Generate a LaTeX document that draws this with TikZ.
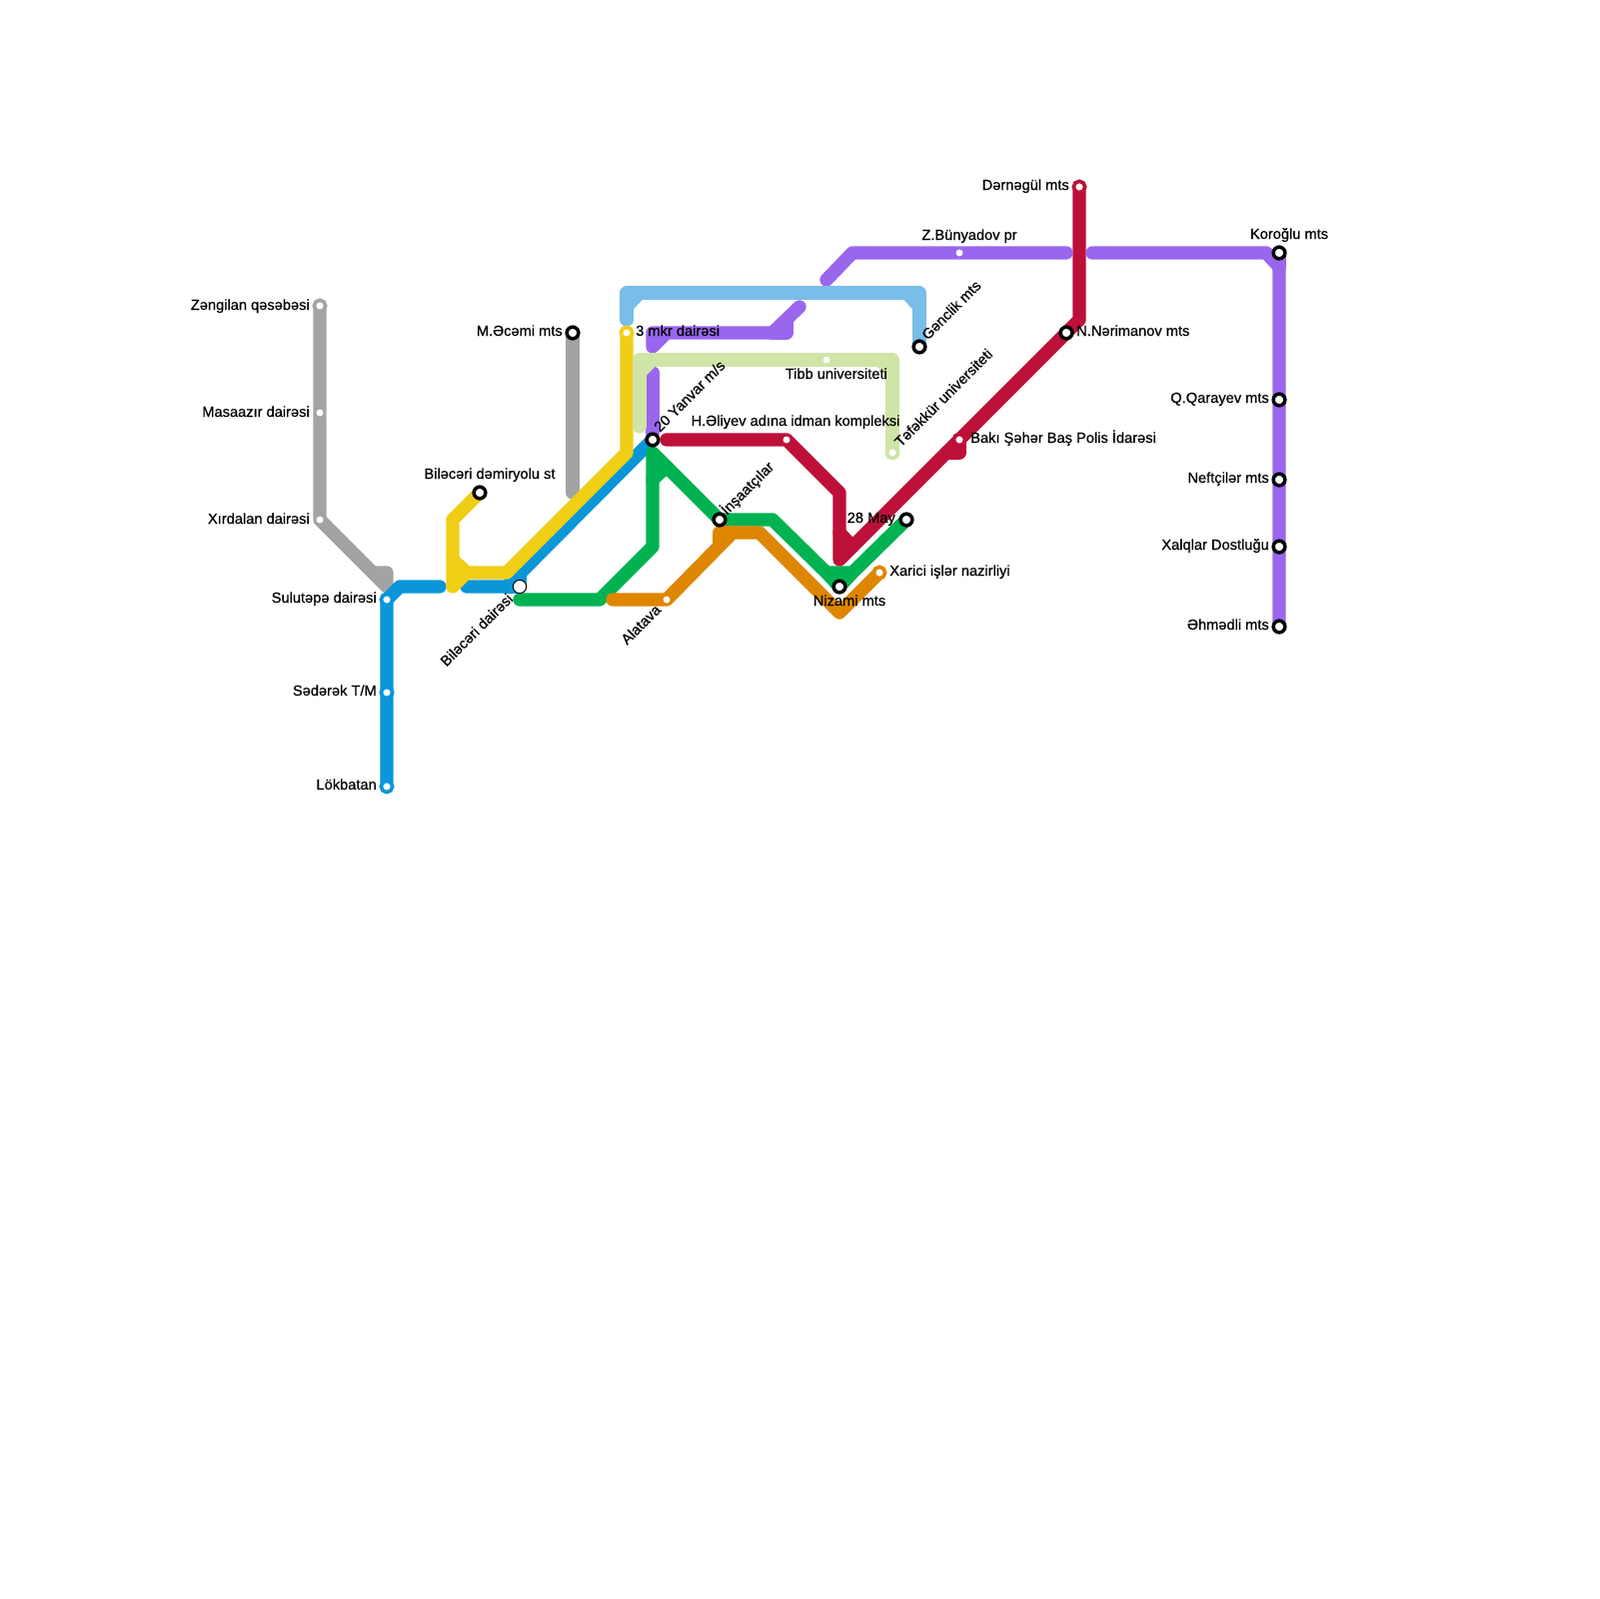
\documentclass[tikz,border=0pt]{standalone}
\usepackage{fontspec}
\setmainfont{Liberation Sans}[RawFeature={embolden=0.5}]
\definecolor{linegray}{HTML}{A3A3A3}
\definecolor{lineblue}{HTML}{0A96D9}
\definecolor{lineyellow}{HTML}{F0CE15}
\definecolor{linegreen}{HTML}{00B251}
\definecolor{lineorange}{HTML}{DF8600}
\definecolor{linered}{HTML}{BD1038}
\definecolor{linepurple}{HTML}{9966EE}
\definecolor{linesky}{HTML}{79BDE9}
\definecolor{linepale}{HTML}{CFE4A7}
\tikzset{
	metro/.style={line width=4mm, line cap=round, line join=round},
	hub/.style={circle, draw=black, fill=white, line width=1.05mm, minimum size=3.5mm, inner sep=0pt},
	openhub/.style={circle, draw=black, fill=white, line width=0.3mm, minimum size=4mm, inner sep=0pt},
	endstop/.style={circle, draw=#1, fill=white, line width=1.1mm, minimum size=3.4mm, inner sep=0pt},
	dot/.style={circle, fill=white, minimum size=2.1mm, inner sep=0pt},
	lbl/.style={inner sep=0pt, text height=2.7mm, text depth=0.8mm, yshift=-0.25mm, font=\fontsize{12.5}{14}\selectfont, text=black},
}
\begin{document}
\begin{tikzpicture}[x=0.3mm, y=-0.3mm]
		\useasboundingbox (0,0) rectangle (1600,1600);
		
		% Stops
		\coordinate (zengilan) at (320,306);
		\coordinate (masaazir) at (320,413);
		\coordinate (xirdalan) at (320,520);
		\coordinate (sulutepe) at (387,600);
		\coordinate (sederek) at (387,693);
		\coordinate (lokbatan) at (387,787);
		\coordinate (ecemi) at (573,333);
		\coordinate (demiryolu) at (480,493);
		\coordinate (bileceri) at (520,587);
		\coordinate (mkr) at (627,333);
		\coordinate (yanvar) at (653,440);
		\coordinate (alatava) at (667,600);
		\coordinate (insaatci) at (720,520);
		\coordinate (idman) at (787,440);
		\coordinate (tibb) at (827,360);
		\coordinate (nizami) at (840,587);
		\coordinate (xarici) at (880,573);
		\coordinate (may) at (907,520);
		\coordinate (tefekkur) at (893,453);
		\coordinate (genclik) at (920,347);
		\coordinate (bunyadov) at (960,253);
		\coordinate (polis) at (960,440);
		\coordinate (nerimanov) at (1067,333);
		\coordinate (dernegul) at (1080,187);
		\coordinate (koroglu) at (1280,253);
		\coordinate (qarayev) at (1280,400);
		\coordinate (neftciler) at (1280,480);
		\coordinate (xalqlar) at (1280,547);
		\coordinate (ehmedli) at (1280,627);
		
		% Gray lines
		\draw[metro, linegray] (zengilan) -- (masaazir) -- (xirdalan) -- (387,587) -- (387,573) -- (373,573);
		\draw[metro, linegray] (ecemi) -- (573,493);
		
		% Blue line
		\draw[metro, lineblue] (lokbatan) -- (sederek) -- (sulutepe) -- (400,587) -- (440,587);
		\draw[metro, lineblue] (467,587) -- (507,587) -- (yanvar);
		\draw[metro, lineblue] (507,587) -- (bileceri) -- (520,573);
		
		% Yellow line
		\draw[metro, lineyellow] (demiryolu) -- (453,520) -- (453,587) -- (467,573) -- (507,573) -- (627,453) -- (mkr);
		\draw[metro, lineyellow] (453,560) -- (467,573);
		
		% Green line
		\draw[metro, linegreen] (520,600) -- (600,600) -- (653,547) -- (653,453) -- (insaatci) -- (773,520) -- (827,573) -- (853,573) -- (may);
		\draw[metro, linegreen] (653,480) -- (667,467);
		\draw[metro, linegreen] (827,573) -- (nizami) -- (853,573);
		
		% Orange line
		\draw[metro, lineorange] (613,600) -- (alatava) -- (733,533) -- (760,533) -- (840,613) -- (xarici);
		\draw[metro, lineorange] (720,543) -- (720,533) -- (733,533);
		
		% Red line
		\draw[metro, linered] (dernegul) -- (1080,320) -- (nerimanov) -- (polis) -- (840,560) -- (840,493) -- (idman) -- (667,440);
		\draw[metro, linered] (840,533) -- (853,547);
		\draw[metro, linered] (polis) -- (960,453) -- (947,453);
		
		% Purple lines
		\draw[metro, linepurple] (1093,253) -- (1267,253) -- (1280,267) -- (ehmedli);
		\draw[metro, linepurple] (koroglu) -- (1280,267);
		\draw[metro, linepurple] (827,280) -- (853,253) -- (1067,253);
		\draw[metro, linepurple] (800,307) -- (773,333) -- (653,333) -- (653,347) -- (667,333);
		\draw[metro, linepurple] (787,320) -- (787,333) -- (773,333);
		\draw[metro, linepurple] (653,373) -- (653,433);
		
		% Sky line
		\draw[metro, linesky] (627,320) -- (627,293) -- (920,293) -- (genclik);
		\draw[metro, linesky] (627,307) -- (640,293);
		\draw[metro, linesky] (907,293) -- (920,307);
		
		% Pale line
		\draw[metro, linepale] (640,427) -- (640,360) -- (893,360) -- (tefekkur);
		\draw[metro, linepale] (640,373) -- (653,360);
		\draw[metro, linepale] (880,360) -- (893,373);
		
		% Markers
		\node[endstop=linegray] (zengilanm) at (zengilan) {};
		\node[dot] (masaazirm) at (masaazir) {};
		\node[dot] (xirdalanm) at (xirdalan) {};
		\node[endstop=lineblue] (sulutepem) at (sulutepe) {};
		\node[endstop=lineblue] (sederekm) at (sederek) {};
		\node[endstop=lineblue] (lokbatanm) at (lokbatan) {};
		\node[hub] (ecemim) at (ecemi) {};
		\node[hub] (demiryolum) at (demiryolu) {};
		\node[openhub] (bilecerim) at (bileceri) {};
		\node[endstop=lineyellow] (mkrm) at (mkr) {};
		\node[hub] (yanvarm) at (yanvar) {};
		\node[dot] (alatavam) at (alatava) {};
		\node[hub] (insaatcim) at (insaatci) {};
		\node[dot] (idmanm) at (idman) {};
		\node[dot] (tibbm) at (tibb) {};
		\node[hub] (nizamim) at (nizami) {};
		\node[endstop=lineorange] (xaricim) at (xarici) {};
		\node[hub] (maym) at (may) {};
		\node[endstop=linepale] (tefekkurm) at (tefekkur) {};
		\node[hub] (genclikm) at (genclik) {};
		\node[dot] (bunyadovm) at (bunyadov) {};
		\node[endstop=linered] (polism) at (polis) {};
		\node[hub] (nerimanovm) at (nerimanov) {};
		\node[endstop=linered] (dernegulm) at (dernegul) {};
		\node[hub] (koroglum) at (koroglu) {};
		\node[hub] (qarayevm) at (qarayev) {};
		\node[hub] (neftcilerm) at (neftciler) {};
		\node[hub] (xalqlarm) at (xalqlar) {};
		\node[hub] (ehmedlim) at (ehmedli) {};
		
		% Labels
		\node[lbl, anchor=east] (zengilant) at (310,306) {Zəngilan qəsəbəsi};
		\node[lbl, anchor=east] (masaazirt) at (310,413) {Masaazır dairəsi};
		\node[lbl, anchor=east] (xirdalant) at (310,520) {Xırdalan dairəsi};
		\node[lbl, anchor=east] (sulutepet) at (377,599) {Sulutəpə dairəsi};
		\node[lbl, anchor=east] (sederekt) at (377,692) {Sədərək T/M};
		\node[lbl, anchor=east] (lokbatant) at (377,786) {Lökbatan};
		\node[lbl, anchor=east] (ecemit) at (563,332) {M.Əcəmi mts};
		\node[lbl] (demiryolut) at (490,475) {Biləcəri dəmiryolu st};
		\node[lbl, anchor=east, rotate=45] (bilecerit) at (512,597) {Biləcəri dairəsi};
		\node[lbl, anchor=west] (mkrt) at (636,332) {3 mkr dairəsi};
		\node[lbl, anchor=west, rotate=45] (yanvart) at (658,430) {20 Yanvar m/s};
		\node[lbl, anchor=east, rotate=45] (alatavat) at (660,608) {Alatava};
		\node[lbl, anchor=west, rotate=45] (insaatcit) at (725,513) {İnşaatçılar};
		\node[lbl] (idmant) at (796,422) {H.Əliyev adına idman kompleksi};
		\node[lbl, anchor=east] (tibbt) at (888,375) {Tibb universiteti};
		\node[lbl] (nizamit) at (850,602) {Nizami mts};
		\node[lbl, anchor=west] (xaricit) at (890,572) {Xarici işlər nazirliyi};
		\node[lbl, anchor=east] (mayt) at (896,519) {28 May};
		\node[lbl, anchor=west, rotate=45] (tefekkurt) at (899,445) {Təfəkkür universiteti};
		\node[lbl, anchor=west, rotate=45] (genclikt) at (926,338) {Gənclik mts};
		\node[lbl] (bunyadovt) at (970,236) {Z.Bünyadov pr};
		\node[lbl, anchor=west] (polist) at (971,439) {Bakı Şəhər Baş Polis İdarəsi};
		\node[lbl, anchor=west] (nerimanovt) at (1077,332) {N.Nərimanov mts};
		\node[lbl, anchor=east] (dernegult) at (1070,186) {Dərnəgül mts};
		\node[lbl] (koroglut) at (1290,235) {Koroğlu mts};
		\node[lbl, anchor=east] (qarayevt) at (1270,399) {Q.Qarayev mts};
		\node[lbl, anchor=east] (neftcilert) at (1270,479) {Neftçilər mts};
		\node[lbl, anchor=east] (xalqlart) at (1270,546) {Xalqlar Dostluğu};
		\node[lbl, anchor=east] (ehmedlit) at (1270,626) {Əhmədli mts};
		
	\end{tikzpicture}
\end{document}
